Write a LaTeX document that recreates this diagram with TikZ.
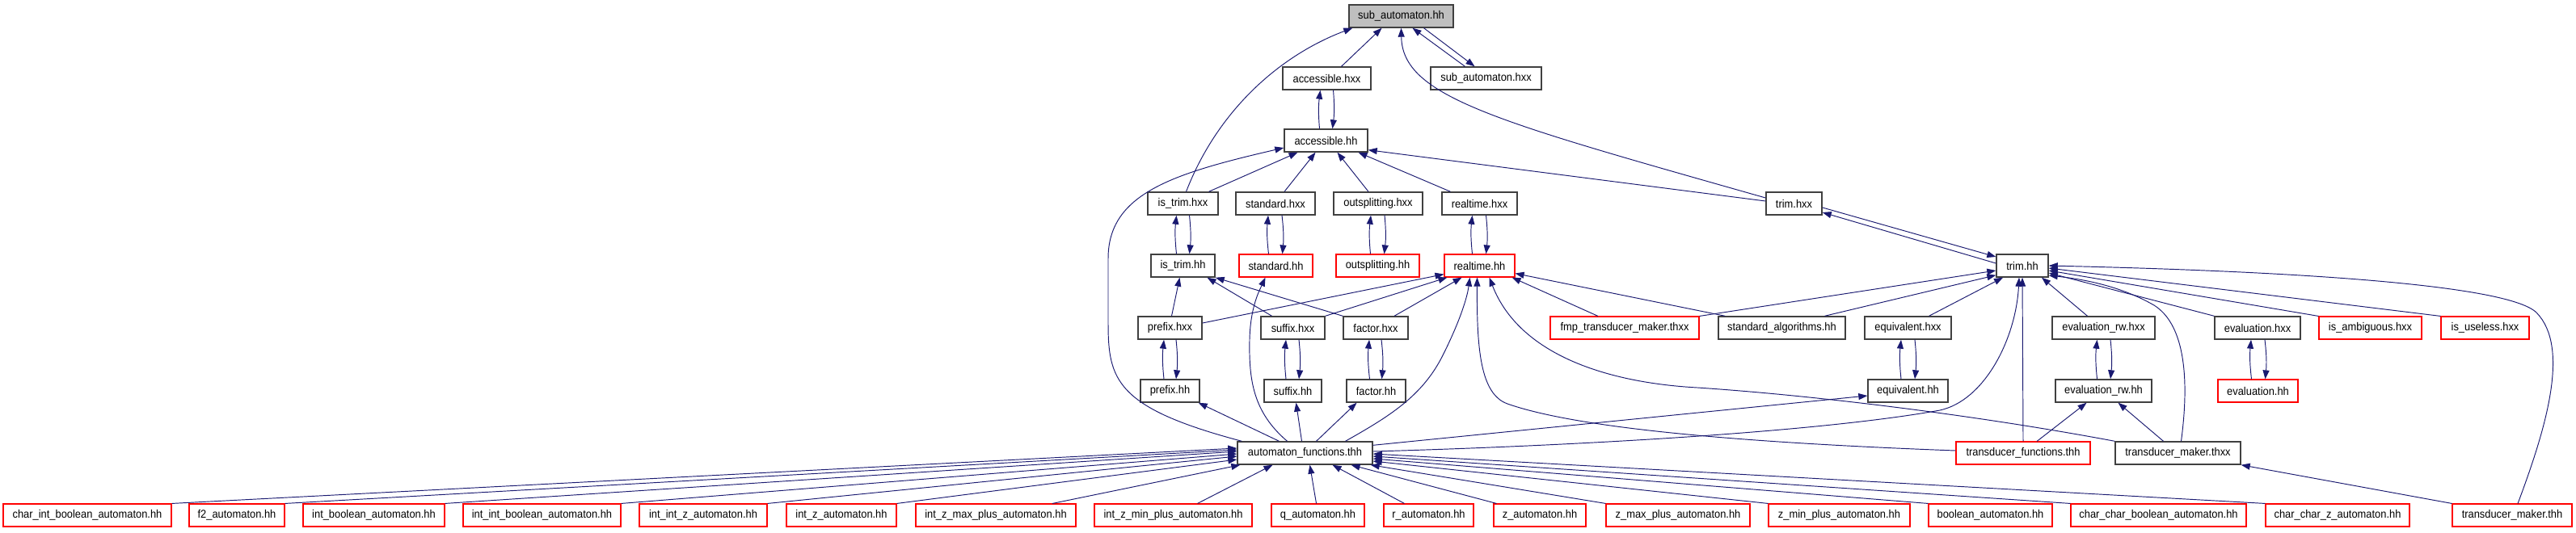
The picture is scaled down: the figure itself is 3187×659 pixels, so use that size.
\documentclass[tikz,border=0pt]{standalone}
\usepackage{fontspec}
\setmainfont{Liberation Sans}[FakeStretch=0.92]
\usetikzlibrary{arrows.meta}
\definecolor{edgeblue}{RGB}{25,25,112}
\definecolor{boxgray}{RGB}{64,64,64}
\definecolor{boxred}{RGB}{255,0,0}
\definecolor{rootgray}{RGB}{191,191,191}
\tikzset{
  box/.style={draw=boxgray, fill=white, line width=1.4pt, minimum height=28pt,
    inner xsep=2pt, inner ysep=0pt, font=\fontsize{14}{16}\selectfont},
  redbox/.style={box, draw=boxred, line width=1.1pt},
  rootbox/.style={box, fill=rootgray},
  incl/.style={draw=edgeblue, line width=0.95pt, -{Triangle[length=11pt,width=8pt]}},
}

\begin{document}
\begin{tikzpicture}[x=1pt,y=-1pt]
  \useasboundingbox (0,0) rectangle (3187,659);

  % row 0 and 1
  \node[rootbox, minimum width=129pt] (root) at (1733.5,20) {sub\_automaton.hh};
  \node[box, minimum width=109pt] (acchxx) at (1641.5,97) {accessible.hxx};
  \node[box, minimum width=137pt] (subhxx) at (1838.5,97) {sub\_automaton.hxx};
  \node[box, minimum width=103pt] (acchh) at (1640.5,174) {accessible.hh};

  % row 3
  \node[box, minimum width=87pt] (istrimhxx) at (1463.5,252) {is\_trim.hxx};
  \node[box, minimum width=98pt] (stdhxx) at (1578,252) {standard.hxx};
  \node[box, minimum width=110pt] (outhxx) at (1705,252) {outsplitting.hxx};
  \node[box, minimum width=93pt] (rthxx) at (1830.5,252) {realtime.hxx};
  \node[box, minimum width=69pt] (trimhxx) at (2219.5,252) {trim.hxx};

  % row 4
  \node[box, minimum width=79pt] (istrimhh) at (1463.5,329) {is\_trim.hh};
  \node[redbox, minimum width=91pt] (stdhh) at (1578.5,329) {standard.hh};
  \node[redbox, minimum width=103pt] (outhh) at (1704.5,329) {outsplitting.hh};
  \node[redbox, minimum width=87pt] (rthh) at (1830.5,329) {realtime.hh};
  \node[box, minimum width=64pt] (trimhh) at (2502,329) {trim.hh};

  % row 5
  \node[box, minimum width=79pt] (prefhxx) at (1447.5,406) {prefix.hxx};
  \node[box, minimum width=79pt] (sufhxx) at (1599.5,406) {suffix.hxx};
  \node[box, minimum width=80pt] (facthxx) at (1702,406) {factor.hxx};
  \node[redbox, minimum width=184pt] (fmp) at (2010,406) {fmp\_transducer\_maker.thxx};
  \node[box, minimum width=157pt] (stdalg) at (2204.5,406) {standard\_algorithms.hh};
  \node[box, minimum width=107pt] (equivhxx) at (2360.5,406) {equivalent.hxx};
  \node[box, minimum width=127pt] (evalrwhxx) at (2602.5,406) {evaluation\_rw.hxx};
  \node[box, minimum width=106pt] (evalhxx) at (2793,406) {evaluation.hxx};
  \node[redbox, minimum width=127pt] (isambig) at (2932.5,406) {is\_ambiguous.hxx};
  \node[redbox, minimum width=109pt] (isuseless) at (3074.5,406) {is\_useless.hxx};

  % row 6
  \node[box, minimum width=73pt] (prefhh) at (1447.5,484) {prefix.hh};
  \node[box, minimum width=71pt] (sufhh) at (1599.5,484) {suffix.hh};
  \node[box, minimum width=73pt] (facthh) at (1702.5,484) {factor.hh};
  \node[box, minimum width=99pt] (equivhh) at (2360.5,484) {equivalent.hh};
  \node[box, minimum width=119pt] (evalrwhh) at (2602.5,484) {evaluation\_rw.hh};
  \node[redbox, minimum width=99pt] (evalhh) at (2793.5,484) {evaluation.hh};

  % row 7
  \node[box, minimum width=167pt] (autofun) at (1614.5,561) {automaton\_functions.thh};
  \node[redbox, minimum width=166pt] (transfun) at (2503,561) {transducer\_functions.thh};
  \node[box, minimum width=155pt] (transmkx) at (2694.5,561) {transducer\_maker.thxx};

  % row 8
  \node[redbox, minimum width=208pt] (cib) at (108,638) {char\_int\_boolean\_automaton.hh};
  \node[redbox, minimum width=118pt] (ftwo) at (293,638) {f2\_automaton.hh};
  \node[redbox, minimum width=175pt] (ib) at (462.5,638) {int\_boolean\_automaton.hh};
  \node[redbox, minimum width=195pt] (iib) at (670.5,638) {int\_int\_boolean\_automaton.hh};
  \node[redbox, minimum width=158pt] (iiz) at (870,638) {int\_int\_z\_automaton.hh};
  \node[redbox, minimum width=136pt] (iz) at (1041,638) {int\_z\_automaton.hh};
  \node[redbox, minimum width=198pt] (izmax) at (1232,638) {int\_z\_max\_plus\_automaton.hh};
  \node[redbox, minimum width=195pt] (izmin) at (1451.5,638) {int\_z\_min\_plus\_automaton.hh};
  \node[redbox, minimum width=115pt] (qa) at (1630.5,638) {q\_automaton.hh};
  \node[redbox, minimum width=111pt] (ra) at (1767.5,638) {r\_automaton.hh};
  \node[redbox, minimum width=114pt] (za) at (1905,638) {z\_automaton.hh};
  \node[redbox, minimum width=178pt] (zmax) at (2076,638) {z\_max\_plus\_automaton.hh};
  \node[redbox, minimum width=175pt] (zmin) at (2275.5,638) {z\_min\_plus\_automaton.hh};
  \node[redbox, minimum width=153pt] (boola) at (2462.5,638) {boolean\_automaton.hh};
  \node[redbox, minimum width=217pt] (ccb) at (2670.5,638) {char\_char\_boolean\_automaton.hh};
  \node[redbox, minimum width=178pt] (ccz) at (2892,638) {char\_char\_z\_automaton.hh};
  \node[redbox, minimum width=148pt] (transmkh) at (3108,638) {transducer\_maker.thh};

  % into sub_automaton.hh
  \draw[incl] ([xshift=18pt]acchxx.north) -- ([xshift=-24pt]root.south);
  \draw[incl] ([xshift=-26pt]subhxx.north) -- ([xshift=14pt]root.south);
  \draw[incl] ([xshift=28pt]root.south) -- ([xshift=-14pt]subhxx.north);
  \draw[incl] ([xshift=4pt]istrimhxx.north) .. controls (1505,140) and (1580,70) .. ([xshift=5pt]root.south west);
  \draw[incl] ([yshift=7pt]trimhxx.west) .. controls (1850,150) and (1735,120) .. (root.south);

  % into accessible.hh
  \draw[incl] ([xshift=-8pt]acchh.north) to[bend left=6] ([xshift=-8pt]acchxx.south);
  \draw[incl] ([xshift=8pt]acchxx.south) to[bend left=6] ([xshift=8pt]acchh.north);
  \draw[incl] ([xshift=32pt]istrimhxx.north) -- ([xshift=-35pt]acchh.south);
  \draw[incl] ([xshift=11pt]stdhxx.north) -- ([xshift=-13pt]acchh.south);
  \draw[incl] ([xshift=-12pt]outhxx.north) -- ([xshift=14pt]acchh.south);
  \draw[incl] ([xshift=-36pt]rthxx.north) -- ([xshift=40pt]acchh.south);
  \draw[incl] ([yshift=3pt]trimhxx.west) -- ([yshift=3pt]acchh.south east);
  \draw[incl] ([xshift=6pt]autofun.north west) .. controls (1380,505) and (1371,470) .. (1371,400)
    -- (1371,320) .. controls (1371,240) and (1450,215) .. ([yshift=-9pt]acchh.west);

  % hxx / hh pairs
  \draw[incl] ([xshift=-8pt]istrimhh.north) to[bend left=6] ([xshift=-8pt]istrimhxx.south);
  \draw[incl] ([xshift=8pt]istrimhxx.south) to[bend left=6] ([xshift=8pt]istrimhh.north);
  \draw[incl] ([xshift=-9pt]stdhh.north) to[bend left=6] ([xshift=-9pt]stdhxx.south);
  \draw[incl] ([xshift=8pt]stdhxx.south) to[bend left=6] ([xshift=8pt]stdhh.north);
  \draw[incl] ([xshift=-9pt]outhh.north) to[bend left=6] ([xshift=-9pt]outhxx.south);
  \draw[incl] ([xshift=8pt]outhxx.south) to[bend left=6] ([xshift=8pt]outhh.north);
  \draw[incl] ([xshift=-9pt]rthh.north) to[bend left=6] ([xshift=-9pt]rthxx.south);
  \draw[incl] ([xshift=8pt]rthxx.south) to[bend left=6] ([xshift=8pt]rthh.north);
  \draw[incl] ([yshift=-5pt]trimhxx.east) -- ([yshift=11pt]trimhh.west);
  \draw[incl] ([yshift=3pt]trimhh.west) -- ([yshift=-11pt]trimhxx.east);

  % into is_trim.hh and standard.hh
  \draw[incl] ([xshift=2pt]prefhxx.north) -- ([xshift=-4pt]istrimhh.south);
  \draw[incl] ([xshift=-26pt]sufhxx.north) -- ([xshift=30pt]istrimhh.south);
  \draw[incl] (facthxx.north west) -- (istrimhh.south east);
  \draw[incl] ([xshift=-22pt]autofun.north) .. controls (1550,510) and (1545,470) .. (1546,420)
    .. controls (1547,380) and (1558,360) .. ([xshift=-13pt]stdhh.south);

  % into realtime.hh
  \draw[incl] ([yshift=6pt]prefhxx.east) -- ([yshift=4pt]rthh.south west);
  \draw[incl] (sufhxx.north east) -- ([xshift=4pt]rthh.south west);
  \draw[incl] ([xshift=23pt]facthxx.north) -- ([xshift=-22pt]rthh.south);
  \draw[incl] ([xshift=50pt]autofun.north) .. controls (1720,515) and (1760,490) .. (1785,440)
    .. controls (1805,400) and (1815,370) .. ([xshift=-12pt]rthh.south);
  \draw[incl] ([yshift=3pt]transfun.west) .. controls (2150,548) and (1950,530) .. (1865,500)
    .. controls (1831,488) and (1827,430) .. ([xshift=-3pt]rthh.south);
  \draw[incl] (transmkx.north west) .. controls (2450,515) and (2250,490) .. (2100,480)
    .. controls (1990,474) and (1880,440) .. ([xshift=12pt]rthh.south);
  \draw[incl] ([xshift=-33pt]fmp.north) -- ([xshift=-4pt]rthh.south east);
  \draw[incl] ([xshift=9pt]stdalg.north west) -- ([yshift=5pt]rthh.south east);

  % into trim.hh
  \draw[incl] (fmp.north east) -- ([yshift=-6pt]trimhh.west);
  \draw[incl] ([xshift=53pt]stdalg.north) -- ([yshift=3pt]trimhh.south west);
  \draw[incl] ([xshift=26pt]equivhxx.north) -- ([xshift=-24pt]trimhh.south);
  \draw[incl] ([yshift=2pt]autofun.east) .. controls (1950,552) and (2250,535) .. (2400,508)
    .. controls (2455,496) and (2494,420) .. ([xshift=-4pt]trimhh.south);
  \draw[incl] (transfun.north) -- (trimhh.south);
  \draw[incl] ([xshift=-20pt]evalrwhxx.north) -- ([xshift=24pt]trimhh.south);
  \draw[incl] ([xshift=4pt]transmkx.north) .. controls (2710,460) and (2700,400) .. (2665,378)
    .. controls (2620,352) and (2570,345) .. ([yshift=-12pt]trimhh.east);
  \draw[incl] (evalhxx.north west) -- ([yshift=-9pt]trimhh.east);
  \draw[incl] (isambig.north west) -- ([yshift=-6pt]trimhh.east);
  \draw[incl] (isuseless.north west) -- ([yshift=-3pt]trimhh.east);
  \draw[incl] ([xshift=7pt]transmkh.north) .. controls (3150,530) and (3180,430) .. (3138,387)
    .. controls (3100,350) and (2800,335) .. (trimhh.east);

  % hxx / hh pairs, lower rows
  \draw[incl] ([xshift=-7.5pt]prefhh.north) to[bend left=6] ([xshift=-7.5pt]prefhxx.south);
  \draw[incl] ([xshift=7.5pt]prefhxx.south) to[bend left=6] ([xshift=7.5pt]prefhh.north);
  \draw[incl] ([xshift=-8.5pt]sufhh.north) to[bend left=6] ([xshift=-8.5pt]sufhxx.south);
  \draw[incl] ([xshift=7.5pt]sufhxx.south) to[bend left=6] ([xshift=7.5pt]sufhh.north);
  \draw[incl] ([xshift=-8pt]facthh.north) to[bend left=6] ([xshift=-8pt]facthxx.south);
  \draw[incl] ([xshift=7pt]facthxx.south) to[bend left=6] ([xshift=7pt]facthh.north);
  \draw[incl] ([xshift=-8.5pt]equivhh.north) to[bend left=6] ([xshift=-8.5pt]equivhxx.south);
  \draw[incl] ([xshift=8.5pt]equivhxx.south) to[bend left=6] ([xshift=8.5pt]equivhh.north);
  \draw[incl] ([xshift=-8pt]evalrwhh.north) to[bend left=6] ([xshift=-8pt]evalrwhxx.south);
  \draw[incl] ([xshift=8.5pt]evalrwhxx.south) to[bend left=6] ([xshift=8.5pt]evalrwhh.north);
  \draw[incl] ([xshift=-8pt]evalhh.north) to[bend left=6] ([xshift=-8pt]evalhxx.south);
  \draw[incl] ([xshift=9pt]evalhxx.south) to[bend left=6] ([xshift=9pt]evalhh.north);

  % from automaton_functions.thh and the transducers
  \draw[incl] ([xshift=-32pt]autofun.north) -- ([xshift=-2pt]prefhh.south east);
  \draw[incl] ([xshift=-4pt]autofun.north) -- ([xshift=4pt]sufhh.south);
  \draw[incl] ([xshift=14pt]autofun.north) -- ([xshift=-24pt]facthh.south);
  \draw[incl] ([yshift=-5pt]autofun.north east) -- ([yshift=-6pt]equivhh.west);
  \draw[incl] ([xshift=17pt]transfun.north) -- ([xshift=-21pt]evalrwhh.south);
  \draw[incl] ([xshift=-18pt]transmkx.north) -- ([xshift=18pt]evalrwhh.south);
  \draw[incl] (transmkh.north west) -- (transmkx.south east);

  % bottom row into automaton_functions.thh
  \draw[incl] (cib.north east) -- ([yshift=6pt]autofun.west);
  \draw[incl] (ftwo.north east) -- ([yshift=4pt]autofun.west);
  \draw[incl] (ib.north east) -- ([yshift=2pt]autofun.west);
  \draw[incl] (iib.north east) -- ([yshift=-1pt]autofun.west);
  \draw[incl] (iiz.north east) -- ([yshift=-4pt]autofun.west);
  \draw[incl] (iz.north east) -- ([yshift=-8pt]autofun.west);
  \draw[incl] ([xshift=70pt]izmax.north) -- ([xshift=4pt]autofun.south west);
  \draw[incl] ([xshift=30pt]izmin.north) -- ([xshift=-40pt]autofun.south);
  \draw[incl] ([xshift=-2pt]qa.north) -- ([xshift=6pt]autofun.south);
  \draw[incl] ([xshift=-30pt]ra.north) -- ([xshift=34pt]autofun.south);
  \draw[incl] ([xshift=4pt]za.north west) -- ([xshift=57pt]autofun.south);
  \draw[incl] (zmax.north west) -- ([xshift=-3pt]autofun.south east);
  \draw[incl] (zmin.north west) -- ([yshift=-10pt]autofun.east);
  \draw[incl] (boola.north west) -- ([yshift=-7pt]autofun.east);
  \draw[incl] (ccb.north west) -- ([yshift=-4pt]autofun.east);
  \draw[incl] (ccz.north west) -- ([yshift=-1pt]autofun.east);
\end{tikzpicture}
\end{document}
